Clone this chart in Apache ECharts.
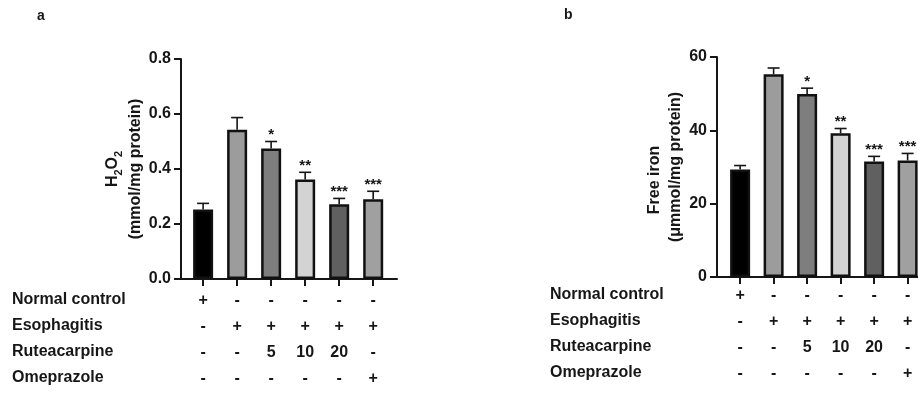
<!DOCTYPE html>
<html>
<head>
<meta charset="utf-8">
<script src="https://cdn.jsdelivr.net/npm/echarts@6/dist/echarts.min.js"></script>
<style>
  html, body { margin: 0; padding: 0; background: #fff; }
  #chart { width: 918px; height: 394px; }
</style>
</head>
<body>
<div id="chart"></div>
<script>
// treatment table under each panel
const groupNames = ['Normal control', 'Esophagitis', 'Ruteacarpine', 'Omeprazole'];
const tableRows = [
  ['+', '-', '-', '-', '-', '-'],
  ['-', '+', '+', '+', '+', '+'],
  ['-', '-', '5', '10', '20', '-'],
  ['-', '-', '-', '-', '-', '+']
];
const groupIdx = [0, 1, 2, 3, 4, 5];

// panel a: H2O2 (mmol/mg protein)
const h2o2Mean = [0.253, 0.543, 0.475, 0.362, 0.272, 0.290];
const h2o2Err = [0.022, 0.044, 0.025, 0.026, 0.021, 0.029];
const h2o2Ticks = [0, 0.2, 0.4, 0.6, 0.8];

// panel b: free iron (umol/mg protein)
const ironMean = [29.3, 55.3, 49.9, 39.2, 31.5, 31.8];
const ironErr = [1.1, 1.7, 1.6, 1.3, 1.4, 1.9];
const ironTicks = [0, 20, 40, 60];

const stars = ['', '', '*', '**', '***', '***'];

const barColors = ['#000000', '#9c9c9c', '#7e7e7e', '#d3d3d3', '#606060', '#a0a0a0'];
const ink = '#161616';
const FONT = '"Liberation Sans", Arial, sans-serif';

const chart = echarts.init(document.getElementById('chart'));

function barData(means) {
  return means.map((v, i) => ({
    value: [groupIdx[i], v],
    itemStyle: { color: barColors[i] }
  }));
}

function errData(means, errs) {
  return means.map((v, i) => [groupIdx[i], v, errs[i]]);
}

// error bar (upper half only) + significance stars
function errRender(params, api) {
  const x = api.value(0), m = api.value(1), e = api.value(2);
  const base = api.coord([x, m]);
  const top = api.coord([x, m + e]);
  return {
    type: 'group',
    children: [
      { type: 'line', shape: { x1: base[0], y1: base[1], x2: top[0], y2: top[1] },
        style: { stroke: ink, lineWidth: 1.6 } },
      { type: 'line', shape: { x1: top[0] - 6, y1: top[1], x2: top[0] + 6, y2: top[1] },
        style: { stroke: ink, lineWidth: 1.6 } },
      { type: 'text', x: top[0], y: top[1] + 1,
        style: { text: stars[params.dataIndex], fill: ink, font: 'bold 15px ' + FONT,
                 textAlign: 'center', textVerticalAlign: 'bottom' } }
    ]
  };
}

function xAxisFor(gridIndex, min, max, margin) {
  return {
    gridIndex: gridIndex,
    type: 'value',
    min: min,
    max: max,
    splitLine: { show: false },
    axisLine: { show: true, onZero: false, lineStyle: { color: ink, width: 2 } },
    axisTick: { show: true, customValues: groupIdx, length: 7, lineStyle: { color: ink, width: 2 } },
    axisLabel: {
      show: true,
      customValues: groupIdx,
      margin: margin,
      color: ink,
      fontFamily: FONT,
      fontWeight: 'bold',
      fontSize: 16,
      lineHeight: 26,
      verticalAlign: 'top',
      formatter: v => tableRows.map(r => r[Math.round(v)]).join('\n')
    }
  };
}

function yAxisFor(gridIndex, ticks, fmt, name, nameGap, rich) {
  return {
    gridIndex: gridIndex,
    type: 'value',
    min: ticks[0],
    max: ticks[ticks.length - 1],
    interval: ticks[1] - ticks[0],
    splitLine: { show: false },
    axisLine: { show: true, onZero: false, lineStyle: { color: ink, width: 2 } },
    axisTick: { show: true, length: 7, lineStyle: { color: ink, width: 2 } },
    axisLabel: { color: ink, fontFamily: FONT, fontWeight: 'bold', fontSize: 16, margin: 10, formatter: fmt },
    name: name,
    nameLocation: 'middle',
    nameRotate: 90,
    nameGap: nameGap,
    nameTextStyle: { color: ink, fontFamily: FONT, fontWeight: 'bold', fontSize: 16, rich: rich }
  };
}

const rowLabels = [];
[[12, 301], [550, 296]].forEach(([x0, y0]) => {
  groupNames.forEach((g, k) => {
    rowLabels.push({
      type: 'text', left: x0, top: y0 + k * 26 - 9,
      style: { text: g, fill: ink, font: 'bold 16px ' + FONT }
    });
  });
});

const option = {
  backgroundColor: '#fff',
  animation: false,
  graphic: [
    { type: 'text', left: 37, top: 9, style: { text: 'a', fill: ink, font: 'bold 14px ' + FONT } },
    { type: 'text', left: 564, top: 8, style: { text: 'b', fill: ink, font: 'bold 14px ' + FONT } }
  ].concat(rowLabels),
  grid: [
    { left: 181, top: 59, width: 216, bottom: 115, outerBoundsMode: 'none' },
    { left: 717, top: 57, width: 201, bottom: 117, outerBoundsMode: 'none' }
  ],
  xAxis: [
    xAxisFor(0, -0.65, 5.7, 9),
    xAxisFor(1, -0.69, 5.31, 6)
  ],
  yAxis: [
    yAxisFor(0, h2o2Ticks, v => v.toFixed(1),
      '{m|H}{s|2}{m|O}{s|2}\n{m|(mmol/mg protein)}', 34,
      { m: { fontSize: 16, fontWeight: 'bold', fontFamily: FONT, color: ink, lineHeight: 23 },
        s: { fontSize: 11, fontWeight: 'bold', fontFamily: FONT, color: ink, lineHeight: 9, verticalAlign: 'bottom' } }),
    yAxisFor(1, ironTicks, v => String(v),
      '{f|Free iron}\n{m|(\u03bcmmol/mg protein)}', 31,
      { f: { fontSize: 16, fontWeight: 'bold', fontFamily: FONT, color: ink, lineHeight: 21, padding: [0, 26, 0, 0] },
        m: { fontSize: 16, fontWeight: 'bold', fontFamily: FONT, color: ink, lineHeight: 21 } })
  ],
  series: [
    { type: 'bar', xAxisIndex: 0, yAxisIndex: 0, barWidth: 20, data: barData(h2o2Mean),
      itemStyle: { borderColor: '#111', borderWidth: 2.5 } },
    { type: 'custom', xAxisIndex: 0, yAxisIndex: 0, z: 3, renderItem: errRender,
      data: errData(h2o2Mean, h2o2Err) },
    { type: 'bar', xAxisIndex: 1, yAxisIndex: 1, barWidth: 20, data: barData(ironMean),
      itemStyle: { borderColor: '#111', borderWidth: 2.5 } },
    { type: 'custom', xAxisIndex: 1, yAxisIndex: 1, z: 3, renderItem: errRender,
      data: errData(ironMean, ironErr) }
  ]
};

chart.setOption(option);
</script>
</body>
</html>
